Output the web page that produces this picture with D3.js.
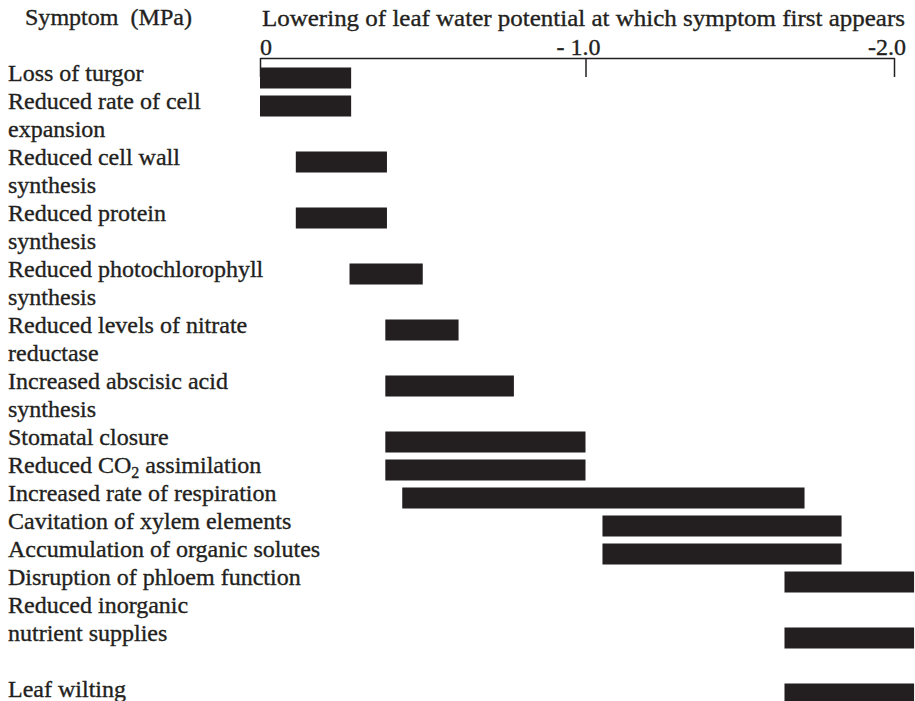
<!DOCTYPE html>
<html>
<head>
<meta charset="utf-8">
<script src="https://cdn.jsdelivr.net/npm/d3@7"></script>
<style>
  html, body { margin: 0; padding: 0; background: #fff; }
  svg { display: block; }
  text { font-family: "Liberation Serif", "Times New Roman", serif; fill: #231f20; stroke: #231f20; stroke-width: 0.35px; }
</style>
</head>
<body>
<svg id="chart" width="915" height="701"></svg>
<script>
// ---- data ----
const symptoms = [
  "Loss of turgor",
  "Reduced rate of cell\nexpansion",
  "Reduced cell wall\nsynthesis",
  "Reduced protein\nsynthesis",
  "Reduced photochlorophyll\nsynthesis",
  "Reduced levels of nitrate\nreductase",
  "Increased abscisic acid\nsynthesis",
  "Stomatal closure",
  "Reduced CO2 assimilation",
  "Increased rate of respiration",
  "Cavitation of xylem elements",
  "Accumulation of organic solutes",
  "Disruption of phloem function",
  "Reduced inorganic\nnutrient supplies",
  "Leaf wilting"
];
// lowering of leaf water potential (MPa, magnitude) where the bar starts / ends
const startMPa = [0, 0, 0.11, 0.11, 0.275, 0.385, 0.385, 0.385, 0.385, 0.437, 1.055, 1.055, 1.645, 1.645, 1.645];
const endMPa   = [0.28, 0.28, 0.39, 0.39, 0.50, 0.61, 0.78, 1.0, 1.0, 1.71, 1.83, 1.83, 2.065, 2.065, 2.065];
// text row on which each symptom label starts, and row of its bar
const labelRow = [0, 1, 3, 5, 7, 9, 11, 13, 14, 15, 16, 17, 18, 19, 22];
const barRow   = [0, 1, 3, 5, 7, 9, 11, 13, 14, 15, 16, 17, 18, 20, 22];
const tickValues = [0, 1, 2];
const tickLabels = ["0", "- 1.0", "-2.0"];
const titleLeft = "Symptom  (MPa)";
const titleRight = "Lowering of leaf water potential at which symptom first appears";

// ---- drawing ----
const svg = d3.select("#chart");
const FS = 24;

// x: piecewise-linear as drawn in the original axis
const x = d3.scaleLinear().domain([0, 1, 2]).range([260, 585.5, 894]);
const xBar = d3.scaleLinear().domain([0, 1, 2, 3]).range([260, 585.5, 894, 1203]);
// rows of text (baseline positions)
const row = d3.scaleLinear().domain([0, 22]).range([81, 697]);

// titles
svg.append("text").attr("x", 25).attr("y", 25).attr("font-size", FS)
  .style("white-space", "pre").attr("textLength", 167).attr("lengthAdjust", "spacingAndGlyphs").text(titleLeft);
svg.append("text").attr("x", 262).attr("y", 26).attr("font-size", FS)
  .attr("textLength", 643).attr("lengthAdjust", "spacingAndGlyphs").text(titleRight);

// axis
const axis = d3.axisBottom(x).tickValues(tickValues).tickSize(19).tickSizeOuter(0).tickFormat("");
const gAxis = svg.append("g").attr("transform", "translate(0,58)").call(axis);
gAxis.select(".domain").attr("stroke", "#231f20").attr("stroke-width", 1.5);
gAxis.selectAll(".tick line").attr("stroke", "#231f20").attr("stroke-width", 1.5);

svg.selectAll("text.ticklab").data(tickValues).join("text")
  .attr("class", "ticklab")
  .attr("font-size", FS)
  .attr("y", 55)
  .attr("x", (d, i) => i === 0 ? x(d) : x(d) + (i === 1 ? 15 : 12))
  .attr("text-anchor", (d, i) => i === 0 ? "start" : "end")
  .style("white-space", "pre")
  .text((d, i) => tickLabels[i]);

// bars
const barH = 21;
svg.selectAll("rect.bar").data(symptoms).join("rect")
  .attr("class", "bar")
  .attr("x", (d, i) => xBar(startMPa[i]))
  .attr("width", (d, i) => xBar(endMPa[i]) - xBar(startMPa[i]))
  .attr("y", (d, i) => row(barRow[i]) - 3 - barH / 2)
  .attr("height", barH)
  .attr("fill", "#231f20");

// labels
symptoms.forEach((s, i) => {
  s.split("\n").forEach((line, j) => {
    const t = svg.append("text").attr("x", 8).attr("y", row(labelRow[i] + j)).attr("font-size", FS);
    const k = line.indexOf("CO2");
    if (k >= 0) {
      t.append("tspan").text(line.slice(0, k + 2));
      t.append("tspan").attr("font-size", 16).attr("dy", 5).text("2");
      t.append("tspan").attr("dy", -5).text(line.slice(k + 3));
    } else {
      t.text(line);
    }
  });
});
</script>
</body>
</html>
